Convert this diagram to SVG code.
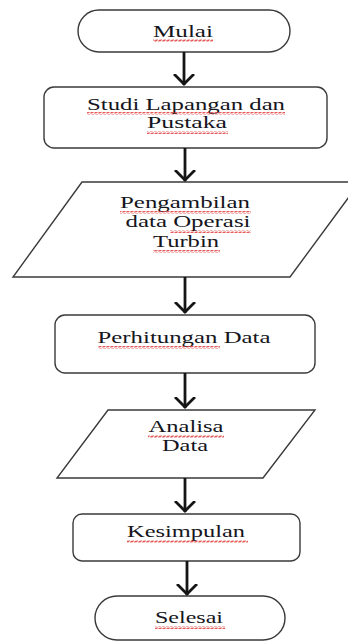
<svg xmlns="http://www.w3.org/2000/svg" width="348" height="641" viewBox="0 0 348 641">
<style>
.shape{fill:#fff;stroke:#3a3a3a;stroke-width:1.4}
.t{font-family:"Liberation Serif","Times New Roman",serif;font-size:16.5px;fill:#151520;text-anchor:middle}
.conn line{stroke:#151515;stroke-width:2.8}
.wv{fill:url(#wave)}
</style>
<defs>
<pattern id="wave" width="4" height="3" patternUnits="userSpaceOnUse">
<path d="M0,2.5 L1,0.5 L3,2.5 L4,0.5" fill="none" stroke="#e03030" stroke-width="0.8"/>
</pattern>
<marker id="ah" viewBox="0 0 12 22" refX="11" refY="11" markerWidth="12" markerHeight="22" markerUnits="userSpaceOnUse" orient="auto">
<path d="M0,1 L10,11 L0,21" fill="none" stroke="#151515" stroke-width="2.8"/>
</marker>
</defs>
<rect width="348" height="641" fill="#fff"/>
<g id="n1">
<rect class="shape" x="78" y="10" width="212" height="42" rx="21"/>
<text class="t" x="183" y="37" textLength="60" lengthAdjust="spacingAndGlyphs">Mulai</text>
<rect class="wv" x="153" y="39" width="60" height="3"/>
</g>
<g id="n2">
<rect class="shape" x="44" y="87" width="283" height="61" rx="10"/>
<text class="t" x="186" y="110" textLength="198" lengthAdjust="spacingAndGlyphs">Studi Lapangan dan</text>
<text class="t" x="187" y="128" textLength="80" lengthAdjust="spacingAndGlyphs">Pustaka</text>
<rect class="wv" x="87" y="112" width="198" height="3"/>
<rect class="wv" x="147" y="131" width="81" height="3"/>
</g>
<g id="n3">
<polygon class="shape" points="82,182 360,182 290,277 13,277"/>
<text class="t" x="185" y="208" textLength="130" lengthAdjust="spacingAndGlyphs">Pengambilan</text>
<text class="t" x="188" y="227" textLength="125" lengthAdjust="spacingAndGlyphs">data Operasi</text>
<text class="t" x="186" y="247" textLength="66" lengthAdjust="spacingAndGlyphs">Turbin</text>
<rect class="wv" x="120" y="211" width="131" height="3"/>
<rect class="wv" x="170" y="230" width="81" height="3"/>
<rect class="wv" x="153" y="250" width="67" height="3"/>
</g>
<g id="n4">
<rect class="shape" x="55" y="315" width="260" height="58" rx="10"/>
<text class="t" x="184" y="343" textLength="173" lengthAdjust="spacingAndGlyphs">Perhitungan Data</text>
<rect class="wv" x="98" y="346" width="122" height="3"/>
</g>
<g id="n5">
<polygon class="shape" points="108,410 315,410 263,478 57,478"/>
<text class="t" x="186" y="432" textLength="75" lengthAdjust="spacingAndGlyphs">Analisa</text>
<text class="t" x="185" y="451" textLength="46" lengthAdjust="spacingAndGlyphs">Data</text>
<rect class="wv" x="148" y="435" width="76" height="3"/>
</g>
<g id="n6">
<rect class="shape" x="73" y="514" width="227" height="47" rx="9"/>
<text class="t" x="186" y="537" textLength="118" lengthAdjust="spacingAndGlyphs">Kesimpulan</text>
<rect class="wv" x="127" y="540" width="121" height="3"/>
</g>
<g id="n7">
<rect class="shape" x="95" y="596" width="190" height="44" rx="22"/>
<text class="t" x="189" y="623" textLength="68" lengthAdjust="spacingAndGlyphs">Selesai</text>
<rect class="wv" x="155" y="626" width="70" height="3"/>
</g>
<g id="connectors" class="conn">
<line x1="184" y1="52" x2="184" y2="85" marker-end="url(#ah)"/>
<line x1="185" y1="148" x2="185" y2="181" marker-end="url(#ah)"/>
<line x1="185" y1="277" x2="185" y2="313" marker-end="url(#ah)"/>
<line x1="185" y1="373" x2="185" y2="408" marker-end="url(#ah)"/>
<line x1="185" y1="478" x2="185" y2="512" marker-end="url(#ah)"/>
<line x1="187" y1="561" x2="187" y2="595" marker-end="url(#ah)"/>
</g>
</svg>
